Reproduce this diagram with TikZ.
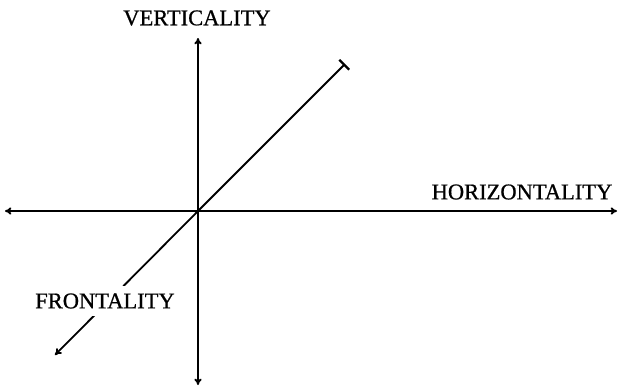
\documentclass[tikz,border=0pt]{standalone}
\usepackage{fontspec}
\setmainfont{Liberation Serif}
\newfontfamily\lblfont[FakeBold=0.8]{Liberation Serif}
\usetikzlibrary{arrows.meta}
\begin{document}
\begin{tikzpicture}[x=1pt,y=-1pt,
  axis/.style={line width=1.8pt,-{To[length=6.5pt,width=7.5pt]}},
  lbl/.style={font=\lblfont\fontsize{22.5}{26}\selectfont,inner sep=0pt},
  gaplbl/.style={lbl,fill=white,inner xsep=2pt,inner ysep=7pt}]
\useasboundingbox (0,0) rectangle (622,388);
\coordinate (O) at (198,211);
\coordinate (T) at (198,38);
\coordinate (B) at (198,385);
\coordinate (L) at (5,211);
\coordinate (R) at (617,211);
\coordinate (D) at (345,64);
\coordinate (F) at (55,355);
\draw[axis] (O) -- (T);
\draw[axis] (O) -- (B);
\draw[axis] (O) -- (L);
\draw[axis] (O) -- (R);
\draw[axis] (O) -- (F);
\draw[line width=1.8pt,-{Bar[width=14pt,line width=2.2pt]}] (O) -- (D);
\node[gaplbl] (fr) at (105,301) {FRONTALITY};
\node[lbl] (ve) at (197,18) {VERTICALITY};
\node[lbl] (ho) at (522,192) {HORIZONTALITY};
\end{tikzpicture}
\end{document}
